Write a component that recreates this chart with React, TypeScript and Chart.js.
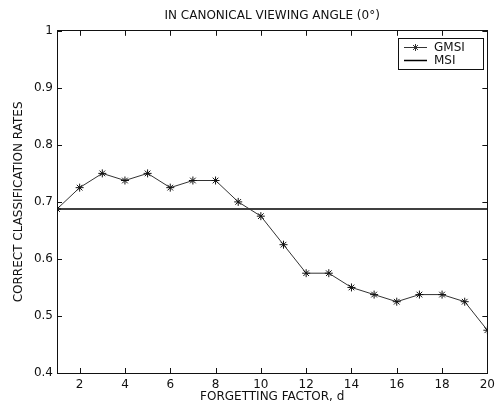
import { useEffect, useRef } from "react";
import { Chart, registerables } from "chart.js";

Chart.register(...registerables);

const forgettingFactor = [1, 2, 3, 4, 5, 6, 7, 8, 9, 10, 11, 12, 13, 14, 15, 16, 17, 18, 19, 20];
const gmsiRates = [0.6875, 0.725, 0.75, 0.7375, 0.75, 0.725, 0.7375, 0.7375, 0.7, 0.675, 0.625, 0.575, 0.575, 0.55, 0.5375, 0.525, 0.5375, 0.5375, 0.525, 0.475];
const msiRate = 0.6875;
const xTicks = [2, 4, 6, 8, 10, 12, 14, 16, 18, 20];
const yTicks = [0.4, 0.5, 0.6, 0.7, 0.8, 0.9, 1];
const seriesNames = ["GMSI", "MSI"];
const titleText = "IN CANONICAL VIEWING ANGLE (0°)";
const xTitle = "FORGETTING FACTOR, d";
const yTitle = "CORRECT CLASSIFICATION RATES";

const FONT = "'DejaVu Sans', Verdana, sans-serif";
const FS = 12;
const INK = "#111";

const innerTicks = {
  id: "innerTicks",
  afterDatasetsDraw(chart: any) {
    const { ctx, chartArea, scales } = chart;
    const len = 5;
    ctx.save();
    ctx.strokeStyle = INK;
    ctx.lineWidth = 1;
    ctx.beginPath();
    for (const v of xTicks) {
      const px = Math.round(scales.x.getPixelForValue(v)) + 0.5;
      ctx.moveTo(px, chartArea.bottom);
      ctx.lineTo(px, chartArea.bottom - len);
      ctx.moveTo(px, chartArea.top);
      ctx.lineTo(px, chartArea.top + len);
    }
    for (const v of yTicks) {
      const py = Math.round(scales.y.getPixelForValue(v)) + 0.5;
      ctx.moveTo(chartArea.left, py);
      ctx.lineTo(chartArea.left + len, py);
      ctx.moveTo(chartArea.right, py);
      ctx.lineTo(chartArea.right - len, py);
    }
    ctx.stroke();
    ctx.restore();
  },
};

const boxLegend = {
  id: "boxLegend",
  afterDatasetsDraw(chart: any) {
    const { ctx, chartArea } = chart;
    const right = Math.round(chartArea.right) - 4;
    const left = right - 85;
    const top = Math.round(chartArea.top) + 7;
    const h = 31;
    ctx.save();
    ctx.fillStyle = "#fff";
    ctx.fillRect(left, top, right - left, h);
    ctx.strokeStyle = INK;
    ctx.lineWidth = 1;
    ctx.strokeRect(left + 0.5, top + 0.5, right - left, h);
    const rows = [top + 9.5, top + 22.5];
    ctx.font = `${FS}px ${FONT}`;
    ctx.textBaseline = "middle";
    ctx.textAlign = "left";
    chart.data.datasets.forEach((ds: any, i: number) => {
      const y = rows[i];
      ctx.strokeStyle = ds.borderColor;
      ctx.lineWidth = ds.borderWidth;
      ctx.beginPath();
      ctx.moveTo(left + 6, y);
      ctx.lineTo(left + 29, y);
      ctx.stroke();
      if (ds.pointRadius > 0) {
        ctx.lineWidth = 1;
        const r = 3.5;
        const cx = left + 17.5;
        ctx.beginPath();
        for (let k = 0; k < 4; k++) {
          const a = (k * Math.PI) / 4;
          ctx.moveTo(cx - r * Math.cos(a), y - r * Math.sin(a));
          ctx.lineTo(cx + r * Math.cos(a), y + r * Math.sin(a));
        }
        ctx.stroke();
      }
      ctx.fillStyle = INK;
      ctx.fillText(ds.label, left + 36, y + 0.5);
    });
    ctx.restore();
  },
};

export default function App() {
  const ref = useRef<HTMLCanvasElement>(null);
  useEffect(() => {
    if (!ref.current) return;
    const chart = new Chart(ref.current, {
      type: "line",
      data: {
        datasets: [
          {
            label: seriesNames[0],
            data: forgettingFactor.map((x, i) => ({ x, y: gmsiRates[i] })),
            borderColor: "#333",
            borderWidth: 1,
            pointStyle: "star",
            pointRadius: 4,
            pointBorderWidth: 1,
            pointBorderColor: "#111",
            pointBackgroundColor: "#111",
            fill: false,
            tension: 0,
          },
          {
            label: seriesNames[1],
            data: [
              { x: forgettingFactor[0], y: msiRate },
              { x: forgettingFactor[forgettingFactor.length - 1], y: msiRate },
            ],
            borderColor: "#000",
            borderWidth: 1.5,
            pointRadius: 0,
            fill: false,
          },
        ],
      },
      options: {
        animation: false,
        responsive: false,
        layout: { padding: 0 },
        plugins: {
          legend: { display: false },
          tooltip: { enabled: false },
          title: {
            display: true,
            fullSize: false,
            text: titleText,
            color: INK,
            font: { family: FONT, size: FS, weight: "normal" },
            padding: { top: 9, bottom: 7.4 },
          },
        },
        scales: {
          x: {
            type: "linear",
            position: "bottom",
            min: 1,
            max: 20,
            afterFit: (s: any) => { s.height = 36; },
            afterBuildTicks: (s: any) => { s.ticks = xTicks.map((v) => ({ value: v })); },
            grid: { display: false, drawTicks: false },
            border: { display: true, color: INK, width: 1 },
            ticks: { color: INK, font: { family: FONT, size: FS }, padding: 5, maxRotation: 0, autoSkip: false },
            title: { display: true, text: xTitle, color: INK, font: { family: FONT, size: FS }, padding: { top: 0, bottom: 5 } },
          },
          x2: {
            type: "linear",
            position: "top",
            min: 1,
            max: 20,
            afterFit: (s: any) => { s.height = 0; },
            grid: { display: false, drawTicks: false },
            border: { display: true, color: INK, width: 1 },
            ticks: { display: false },
          },
          y: {
            type: "linear",
            position: "left",
            min: 0.4,
            max: 1,
            afterFit: (s: any) => { s.width = 57; },
            afterBuildTicks: (s: any) => { s.ticks = yTicks.map((v) => ({ value: v })); },
            grid: { display: false, drawTicks: false },
            border: { display: true, color: INK, width: 1 },
            ticks: {
              color: INK,
              font: { family: FONT, size: FS },
              padding: 4,
              autoSkip: false,
              callback: (v: any) => (Math.abs(v - 1) < 1e-9 ? "1" : Number(v).toFixed(1)),
            },
            title: { display: true, text: yTitle, color: INK, font: { family: FONT, size: FS }, padding: { top: 12, bottom: 0 } },
          },
          y2: {
            type: "linear",
            position: "right",
            min: 0.4,
            max: 1,
            afterFit: (s: any) => { s.width = 9; },
            grid: { display: false, drawTicks: false },
            border: { display: true, color: INK, width: 1 },
            ticks: { display: false },
          },
        },
      } as any,
      plugins: [innerTicks, boxLegend],
    });
    return () => chart.destroy();
  }, []);
  return (
    <div style={{ position: "absolute", left: 0, top: 0, width: 500, height: 409, background: "#fff" }}>
      <canvas ref={ref} width={500} height={409} />
    </div>
  );
}
